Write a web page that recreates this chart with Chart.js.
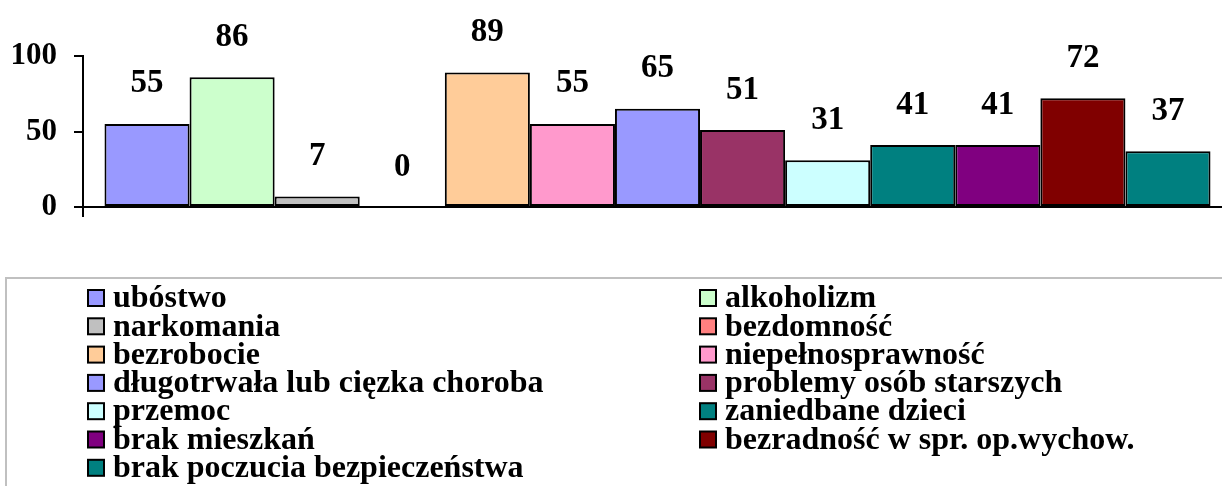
<!DOCTYPE html>
<html>
<head>
<meta charset="utf-8">
<script src="https://cdn.jsdelivr.net/npm/chart.js@4"></script>
<style>
  html, body { margin: 0; padding: 0; background: #fff; overflow: hidden; }
</style>
</head>
<body>
<canvas id="chart1" width="1232" height="486"></canvas>
<script>
const ctx = document.getElementById('chart1');

const categories = ['ubóstwo', 'alkoholizm', 'narkomania', 'bezdomność', 'bezrobocie',
                    'niepełnosprawność', 'długotrwała lub cięzka choroba', 'problemy osób starszych',
                    'przemoc', 'zaniedbane dzieci', 'brak mieszkań', 'bezradność w spr. op.wychow.',
                    'brak poczucia bezpieczeństwa'];
const values = [55, 86, 7, 0, 89, 55, 65, 51, 31, 41, 41, 72, 37];
const colors = ['#9999FF', '#CCFFCC', '#C0C0C0', '#FF8080', '#FFCC99', '#FF99CC', '#9999FF',
                '#993366', '#CCFFFF', '#008080', '#800080', '#800000', '#008080'];
const yTicks = [0, 50, 100];

const FONT = "'Liberation Serif', 'Times New Roman', serif";

// value labels above each bar
const valueLabels = {
    id: 'valueLabels',
    afterDatasetsDraw(chart) {
        const c = chart.ctx;
        c.save();
        c.font = 'bold 33px ' + FONT;
        c.fillStyle = '#000';
        c.textAlign = 'center';
        c.textBaseline = 'middle';
        chart.data.datasets.forEach((ds, i) => {
            const bar = chart.getDatasetMeta(i).data[0];
            c.fillText(String(ds.data[0]), bar.x, bar.y - 40);
        });
        c.restore();
    }
};

// two-column legend in a grey box, like the original
const boxLegend = {
    id: 'boxLegend',
    afterDraw(chart) {
        const c = chart.ctx;
        c.save();
        c.strokeStyle = '#C0C0C0';
        c.lineWidth = 2;
        c.strokeRect(6, 278, 1400, 400);
        c.font = 'bold 32px ' + FONT;
        c.textBaseline = 'middle';
        c.textAlign = 'left';
        chart.data.datasets.forEach((ds, i) => {
            const col = i % 2, row = Math.floor(i / 2);
            const x = col === 0 ? 88 : 700;
            const y = 298 + row * 28.3;
            c.fillStyle = ds.backgroundColor;
            c.fillRect(x, y - 8, 16, 16);
            c.strokeStyle = '#000';
            c.lineWidth = 2;
            c.strokeRect(x, y - 8, 16, 16);
            c.fillStyle = '#000';
            c.fillText(ds.label, x + 25, y + 1);
        });
        c.restore();
    }
};

new Chart(ctx, {
    type: 'bar',
    data: {
        labels: [''],
        datasets: categories.map((name, i) => ({
            label: name,
            data: [values[i]],
            backgroundColor: colors[i],
            borderColor: '#000',
            borderWidth: 2,
            borderSkipped: false
        }))
    },
    options: {
        responsive: false,
        animation: false,
        layout: { padding: { top: 56, bottom: 269, left: 0, right: 0 } },
        datasets: { bar: { barPercentage: 1, categoryPercentage: 0.9626 } },
        scales: {
            x: {
                ticks: { display: false },
                grid: { offset: true, drawOnChartArea: false, tickLength: 10, color: '#000', lineWidth: 2 },
                border: { color: '#000', width: 2 },
                afterFit(s) { s.height = 10; s.paddingLeft = 0; s.paddingRight = 0; }
            },
            y: {
                min: 0,
                max: 100,
                afterBuildTicks(s) { s.ticks = yTicks.map(v => ({ value: v })); },
                ticks: { color: '#000', padding: 17, font: { family: FONT, size: 31, weight: 'bold' } },
                grid: { drawOnChartArea: false, tickLength: 9, color: '#000', lineWidth: 2 },
                border: { color: '#000', width: 2 },
                afterFit(s) { s.width = 83; s.paddingTop = 0; s.paddingBottom = 0; }
            }
        },
        plugins: {
            legend: { display: false },
            tooltip: { enabled: false }
        }
    },
    plugins: [valueLabels, boxLegend]
});
</script>
</body>
</html>
